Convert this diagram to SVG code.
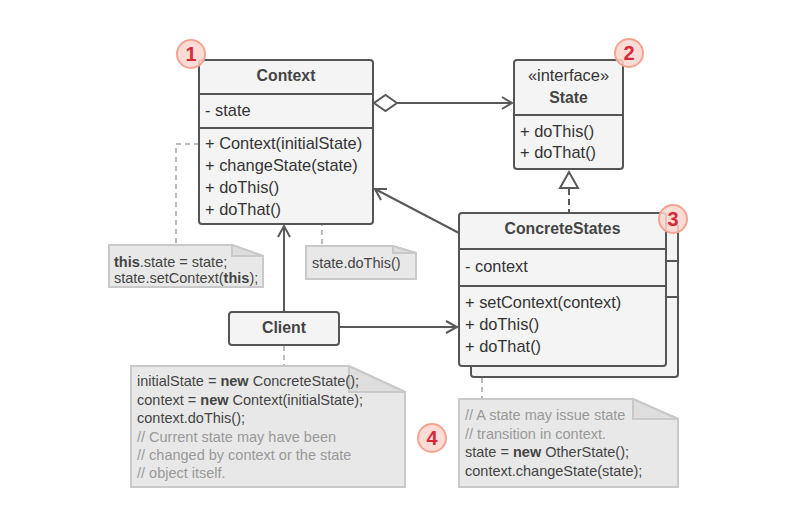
<svg xmlns="http://www.w3.org/2000/svg" width="793" height="522" viewBox="0 0 793 522">
<style>
.box{fill:#f4f4f4;stroke:#555;stroke-width:2}
.sep{stroke:#555;stroke-width:2;fill:none}
.t{font-family:"Liberation Sans",Arial,sans-serif;font-size:16.4px;fill:#333}
.b{font-weight:bold}
.title{font-family:"Liberation Sans",Arial,sans-serif;font-size:15.8px;font-weight:bold;fill:#444;text-anchor:middle}
.line{stroke:#595959;stroke-width:2;fill:none}
.dash{stroke:#bbb;stroke-width:2;fill:none;stroke-dasharray:5 4}
.note{fill:#e8e8e8;stroke:#c9c9c9;stroke-width:2}
.fold{fill:#dedede;stroke:#c9c9c9;stroke-width:2}
.nt{font-family:"Liberation Sans",Arial,sans-serif;font-size:14.5px;fill:#444}
.cm{fill:#999}
.badge{fill:#fcd6cd;fill-opacity:0.85;stroke:#f4a393;stroke-width:2}
.bt{font-family:"Liberation Sans",Arial,sans-serif;font-size:20px;font-weight:bold;fill:#d42a3a;text-anchor:middle}
</style>
<g id="connectors">
<path class="line" d="M397,103 H512"/>
<path class="line" d="M502,97 L512,103 L502,109"/>
<path class="line" d="M397,103 L385.5,95 L374,103 L385.5,111 Z" fill="#fff"/>
<path class="line" d="M569,189 V213" stroke-dasharray="6 4"/>
<path class="line" d="M569,172 L560,188 H578 Z" fill="#fff"/>
<path class="line" d="M459,233 L375,189"/>
<path class="line" d="M381,200 L375,189 L387,189"/>
<path class="line" d="M284,312 V226"/>
<path class="line" d="M278,237 L284,226 L290,237"/>
<path class="line" d="M339,327 H457"/>
<path class="line" d="M446,321 L457,327 L446,333"/>
<path class="dash" d="M199,144 H176 V245"/>
<path class="dash" d="M292,188 H322 V246"/>
<circle cx="289" cy="188" r="3.5" fill="none" stroke="#bbb" stroke-width="1.8"/>
<path class="dash" d="M284,346 V366"/>
<path class="dash" d="M482,378 V399"/>
</g>
<g id="context">
<rect class="box" x="199" y="60" width="174" height="164" rx="3"/>
<path class="sep" d="M199,94 H373 M199,128 H373"/>
<text class="title" x="286" y="81">Context</text>
<text class="t" x="205" y="116">- state</text>
<text class="t" x="205" y="149">+ Context(initialState)</text>
<text class="t" x="205" y="171">+ changeState(state)</text>
<text class="t" x="205" y="193">+ doThis()</text>
<text class="t" x="205" y="215">+ doThat()</text>
</g>
<g id="state">
<rect class="box" x="514" y="60" width="109" height="109" rx="3"/>
<path class="sep" d="M514,115 H623"/>
<text class="t" x="568.5" y="81" text-anchor="middle">«interface»</text>
<text class="title" x="568.5" y="103">State</text>
<text class="t" x="520" y="137">+ doThis()</text>
<text class="t" x="520" y="158">+ doThat()</text>
</g>
<g id="concretestates">
<rect class="box" x="471" y="224" width="207" height="153" rx="3"/>
<path class="sep" d="M666,261 H678 M666,297 H678"/>
<rect class="box" x="459" y="213" width="207" height="153" rx="3"/>
<path class="sep" d="M459,249 H666 M459,286 H666"/>
<text class="title" x="562.5" y="234">ConcreteStates</text>
<text class="t" x="465" y="272">- context</text>
<text class="t" x="465" y="308">+ setContext(context)</text>
<text class="t" x="465" y="330">+ doThis()</text>
<text class="t" x="465" y="352">+ doThat()</text>
</g>
<g id="client">
<rect class="box" x="229" y="312" width="110" height="33" rx="3"/>
<text class="title" x="284" y="333">Client</text>
</g>
<g id="note-context">
<path class="note" d="M109,245 H232 L263,256 V287 H109 Z"/>
<path class="fold" d="M232,245 V256 H263 Z"/>
<text class="nt" x="114" y="267"><tspan class="b">this</tspan>.state = state;</text>
<text class="nt" x="114" y="283">state.setContext(<tspan class="b">this</tspan>);</text>
</g>
<g id="note-dothis">
<path class="note" d="M306,246 H393 L416,253 V279 H306 Z"/>
<path class="fold" d="M393,246 V253 H416 Z"/>
<text class="nt" x="312" y="268">state.doThis()</text>
</g>
<g id="note-client">
<path class="note" d="M131,366 H349 L405,392 V487 H131 Z"/>
<path class="fold" d="M349,366 V392 H405 Z"/>
<text class="nt" x="137" y="386">initialState = <tspan class="b">new</tspan> ConcreteState();</text>
<text class="nt" x="137" y="405">context = <tspan class="b">new</tspan> Context(initialState);</text>
<text class="nt" x="137" y="423">context.doThis();</text>
<text class="nt cm" x="137" y="442">// Current state may have been</text>
<text class="nt cm" x="137" y="460">// changed by context or the state</text>
<text class="nt cm" x="137" y="478">// object itself.</text>
</g>
<g id="note-concrete">
<path class="note" d="M459,399 H633 L678,419 V487 H459 Z"/>
<path class="fold" d="M633,399 V419 H678 Z"/>
<text class="nt cm" x="465" y="420">// A state may issue state</text>
<text class="nt cm" x="465" y="439">// transition in context.</text>
<text class="nt" x="465" y="457">state = <tspan class="b">new</tspan> OtherState();</text>
<text class="nt" x="465" y="476">context.changeState(state);</text>
</g>
<g id="badge1"><circle class="badge" cx="191" cy="54" r="14"/><text class="bt" x="191" y="61">1</text></g>
<g id="badge2"><circle class="badge" cx="629" cy="53" r="14"/><text class="bt" x="629" y="60">2</text></g>
<g id="badge3"><circle class="badge" cx="673" cy="219" r="14"/><text class="bt" x="673" y="226">3</text></g>
<g id="badge4"><circle class="badge" cx="432" cy="438" r="14"/><text class="bt" x="432" y="445">4</text></g>
</svg>
